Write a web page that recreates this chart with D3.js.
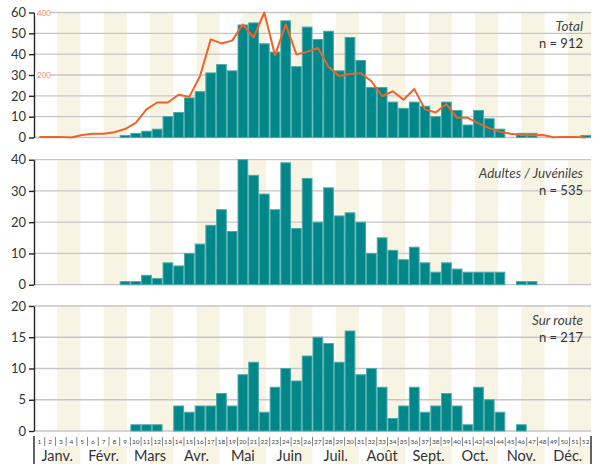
<!DOCTYPE html>
<html lang="fr">
<head>
	<meta charset="UTF-8">
	<title>Observations par semaine</title>
	<style>
		body{ margin:0; background:#fff; }
		text{ font-family: Lato, "Open Sans", sans-serif; }
		.axis path, .axis line{ fill:none; stroke:#222; stroke-width:1.4px; }
		.axis text{ font-size:13px; fill:#333; }
	</style>
</head>
<body>
	<script src="https://d3js.org/d3.v7.min.js"></script>
	<script>
		var weeks = d3.range(1, 53);
		var months = ['Janv.', 'Févr.', 'Mars', 'Avr.', 'Mai', 'Juin', 'Juil.', 'Août', 'Sept.', 'Oct.', 'Nov.', 'Déc.'];

		// nombre d'observations par semaine
		var totalValues = [0,0,0,0,0,0,0,0,1,2,3,4,10,12,19,22,31,35,32,54,55,45,41,56,34,53,47,51,32,48,37,24,24,17,14,17,15,10,17,13,6,13,9,4,0,2,2,0,0,0,0,1];
		var adultValues = [0,0,0,0,0,0,0,0,1,1,3,2,7,6,10,13,19,24,17,40,35,29,24,39,18,34,20,31,22,23,20,10,15,11,8,12,7,4,7,5,4,4,4,4,0,1,1,0,0,0,0,0];
		var routeValues = [0,0,0,0,0,0,0,0,0,1,1,1,0,4,3,4,4,6,4,9,11,3,7,10,8,12,15,14,11,16,9,10,7,2,4,7,3,4,6,4,1,7,5,3,0,1,0,0,0,0,0,0];
		// courbe orange (échelle 0-400)
		var lineValues = [2,2,2,0,8,12,12,17,27,47,90,112,112,137,130,197,314,301,310,362,320,400,263,362,266,274,287,226,197,203,206,180,132,148,121,155,90,80,107,63,63,45,30,18,12,8,7,8,1,2,2,0];

		var panelTitles = ['Total', 'Adultes / Juvéniles', 'Sur route'];
		var panelCounts = ['n = 912', 'n = 535', 'n = 217'];
		var panelMax = [60, 40, 20];
		var panelStep = [10, 10, 5];
		var lineTicks = [200, 400];

		var width = 600, height = 464;
		var left = 34, right = 591;
		var panelTop = [12.5, 159.7, 306];
		var panelH = 125;

		var svg = d3.select('body').append('svg')
			.attr('width', width).attr('height', height);

		var x = d3.scaleBand().domain(weeks).range([left, right]).padding(0);
		var xm = d3.scaleLinear().domain([0, 12]).range([left, right]);

		var panels = [totalValues, adultValues, routeValues];

		panels.forEach(function(values, p){
			var top = panelTop[p], bottom = top + panelH;
			var y = d3.scaleLinear().domain([0, panelMax[p]]).range([bottom, top]);
			var g = svg.append('g');

			// bandes beiges (deuxième moitié de chaque mois)
			g.selectAll('rect.band').data(d3.range(12)).enter().append('rect')
				.attr('x', function(m){ return xm(m + 0.5); })
				.attr('width', function(m){ return xm(m + 1) - xm(m + 0.5); })
				.attr('y', top).attr('height', panelH)
				.attr('fill', '#f8f4e4');

			var ticks = d3.range(0, panelMax[p] + 0.1, panelStep[p]);
			g.selectAll('line.grid').data(ticks).enter().append('line')
				.attr('x1', left).attr('x2', right)
				.attr('y1', function(d){ return y(d); })
				.attr('y2', function(d){ return y(d); })
				.attr('stroke', '#c6c6c6').attr('stroke-width', 1.3);

			g.selectAll('rect.bar').data(values.map(function(v, i){ return {w: weeks[i], v: v}; })
				.filter(function(d){ return d.v > 0; }))
				.enter().append('rect')
				.attr('x', function(d){ return x(d.w) + 0.5; })
				.attr('width', x.bandwidth() - 1)
				.attr('y', function(d){ return y(d.v); })
				.attr('height', function(d){ return bottom - y(d.v); })
				.attr('fill', '#00878a')
				.attr('stroke', '#4fa9a9').attr('stroke-width', 1);

			g.append('g').attr('class', 'axis')
				.attr('transform', 'translate(' + left + ',0)')
				.call(d3.axisLeft(y).tickValues(ticks).tickSize(5).tickSizeOuter(0).tickPadding(3));

			if(p === 0){
				var y2 = d3.scaleLinear().domain([0, 400]).range([bottom, top]);
				g.append('path')
					.datum(lineValues)
					.attr('fill', 'none')
					.attr('stroke', '#ef6328').attr('stroke-width', 2)
					.attr('stroke-linejoin', 'round')
					.attr('d', d3.line()
						.x(function(d, i){ return x(weeks[i]) + x.bandwidth() / 2; })
						.y(function(d){ return y2(d); }));
				var lt = g.selectAll('g.lt').data(lineTicks).enter().append('g')
					.attr('transform', function(d){ return 'translate(' + (left + 1) + ',' + y2(d) + ')'; });
				lt.append('rect').attr('x', 0).attr('y', -4).attr('width', 15).attr('height', 8).attr('fill', '#fff');
				lt.append('text').attr('x', 2).attr('y', 3)
					.attr('font-size', '8px').attr('fill', '#f28a5c')
					.text(function(d){ return d; });
			}

			g.append('text').attr('x', 583).attr('y', top + 18.5)
				.attr('text-anchor', 'end').attr('font-style', 'italic')
				.attr('font-size', '13.5px').attr('fill', '#444')
				.text(panelTitles[p]);
			g.append('text').attr('x', 583).attr('y', top + 35.5)
				.attr('text-anchor', 'end')
				.attr('font-size', '13px').attr('fill', '#333')
				.text(panelCounts[p]);
		});

		// rangée des semaines et des mois
		var lab = svg.append('g');
		lab.selectAll('rect.mband').data(d3.range(12)).enter().append('rect')
			.attr('x', function(m){ return xm(m + 0.5); })
			.attr('width', function(m){ return xm(m + 1) - xm(m + 0.5); })
			.attr('y', 446).attr('height', 18)
			.attr('fill', '#f8f4e4');
		lab.selectAll('line.sep').data(weeks.slice(1)).enter().append('line')
			.attr('x1', function(d){ return x(d); }).attr('x2', function(d){ return x(d); })
			.attr('y1', 437).attr('y2', 446)
			.attr('stroke', '#666').attr('stroke-width', 0.8);
		lab.selectAll('text.wk').data(weeks).enter().append('text')
			.attr('x', function(d){ return x(d) + x.bandwidth() / 2; })
			.attr('y', 443.5)
			.attr('text-anchor', 'middle')
			.attr('font-size', '6.5px').attr('fill', '#444')
			.text(function(d){ return d; });
		lab.selectAll('text.month').data(months).enter().append('text')
			.attr('x', function(d, i){ return xm(i + 0.5); })
			.attr('y', 461)
			.attr('text-anchor', 'middle')
			.attr('font-size', '14.5px').attr('fill', '#333')
			.text(function(d){ return d; });
		lab.selectAll('line.edge').data([left, right]).enter().append('line')
			.attr('x1', function(d){ return d; }).attr('x2', function(d){ return d; })
			.attr('y1', 436).attr('y2', 464)
			.attr('stroke', '#222').attr('stroke-width', 1.4);
	</script>
</body>
</html>
